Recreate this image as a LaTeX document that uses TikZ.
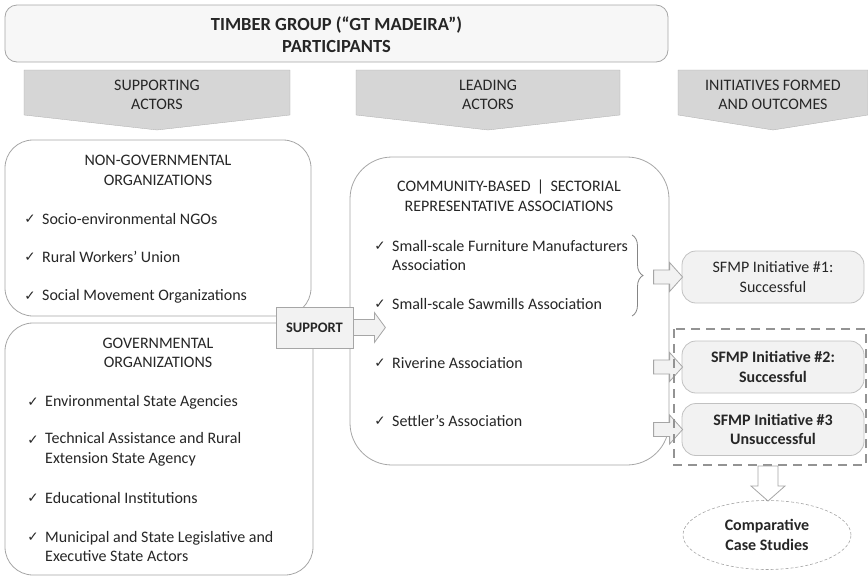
\documentclass[tikz,border=0pt]{standalone}
\usepackage{fontspec}
\setmainfont{Carlito}
\newfontfamily\symf{DejaVu Sans}
\usetikzlibrary{shapes.geometric,decorations.pathreplacing}
\definecolor{txt}{HTML}{262626}
\definecolor{bord}{HTML}{A6A6A6}
\definecolor{lightfill}{HTML}{F2F2F2}
\definecolor{chevfill}{HTML}{D6D6D6}
\begin{document}
\begin{tikzpicture}[x=1pt,y=-1pt,
  every node/.style={text=txt,font=\fontsize{16}{19.5}\selectfont},
  roundbox/.style={draw=bord,line width=0.8pt,fill=white,inner sep=0pt},
  item/.style={anchor=west,inner sep=0pt,align=left},
  chk/.style={inner sep=0pt,font=\symf\fontsize{13.5}{13.5}\selectfont},
  ttl/.style={inner sep=0pt,align=center},
  chev/.style={fill=chevfill,draw=chevfill!80!black,line width=0.3pt},
  barrow/.style={draw=bord,fill=lightfill,line width=0.8pt,line join=miter},
  initbox/.style={draw=bord!70,fill=lightfill,line width=0.8pt,rounded corners=14pt,minimum width=182pt,minimum height=52pt,align=center,inner sep=0pt},
  boldtxt/.style={font=\bfseries\fontsize{16}{19.5}\selectfont}
]
\useasboundingbox (0,0) rectangle (868,576);

% top box
\node[roundbox,fill=lightfill!60!white,rounded corners=12pt,minimum width=663pt,minimum height=57pt] (top) at (336.5,33.5) {};
\node[ttl,font=\bfseries\fontsize{18.5}{22.5}\selectfont] (toptxt) at ([yshift=-1pt]top.center) {TIMBER GROUP (“GT MADEIRA”)\\PARTICIPANTS};

% chevrons
\fill[chev] (24,70) -- (290,70) -- (290,115) -- (157,130) -- (24,115) -- cycle;
\node[ttl] (ch1) at (157,95) {SUPPORTING\\ACTORS};
\fill[chev] (356,70) -- (620,70) -- (620,115) -- (488,130) -- (356,115) -- cycle;
\node[ttl] (ch2) at (488,95) {LEADING\\ACTORS};
\fill[chev] (678,70) -- (868,70) -- (868,115) -- (773,130) -- (678,115) -- cycle;
\node[ttl] (ch3) at (773,95) {INITIATIVES FORMED\\AND OUTCOMES};

% NGO box
\draw[roundbox,rounded corners=28pt] (5,140) rectangle (311,316);
\node[ttl] (ngot) at (158,170.5) {NON-GOVERNMENTAL\\ORGANIZATIONS};
\node[chk] (c1) at (30,219) {✓}; \node[item] (n1) at (42,219) {Socio-environmental NGOs};
\node[chk] (c2) at (30,257) {✓}; \node[item] (n2) at (42,257) {Rural Workers’ Union};
\node[chk] (c3) at (30,296) {✓}; \node[item] (n3) at (42,296) {Social Movement Organizations};

% GOV box
\draw[roundbox,rounded corners=28pt] (5,323) rectangle (313,575);
\node[ttl] (govt) at (158,353) {GOVERNMENTAL\\ORGANIZATIONS};
\node[chk] (g1c) at (33,402) {✓}; \node[item] (g1) at (45,402) {Environmental State Agencies};
\node[chk] (g2c) at (33,440) {✓}; \node[item] (g2) at (45,449.5) {Technical Assistance and Rural\\Extension State Agency};
\node[chk] (g3c) at (33,498) {✓}; \node[item] (g3) at (45,498) {Educational Institutions};
\node[chk] (g4c) at (33,537) {✓}; \node[item] (g4) at (45,546.5) {Municipal and State Legislative and\\Executive State Actors};

% central box
\draw[roundbox,rounded corners=42pt] (350,157) rectangle (669,465);
\node[ttl] (cent) at (509,196) {COMMUNITY-BASED \,|\, SECTORIAL\\REPRESENTATIVE ASSOCIATIONS};
\node[chk] (l1c) at (380,246) {✓}; \node[item] (l1) at (392,255.5) {Small-scale Furniture Manufacturers\\Association};
\node[chk] (l2c) at (380,304) {✓}; \node[item] (l2) at (392,304) {Small-scale Sawmills Association};
\node[chk] (l3c) at (380,363) {✓}; \node[item] (l3) at (392,363) {Riverine Association};
\node[chk] (l4c) at (380,421) {✓}; \node[item] (l4) at (392,421) {Settler’s Association};

% support box and arrow
\node[draw=bord,fill=lightfill,line width=0.8pt,minimum width=77pt,minimum height=41pt,inner sep=0pt,font=\bfseries\fontsize{14.5}{19}\selectfont] (sup) at (314.5,327.5) {SUPPORT};
\draw[barrow] (sup.east) ++(0,-8) -- ++(21,0) -- ++(0,-7) -- ++(11,15) -- ++(-11,15) -- ++(0,-7) -- ++(-21,0) -- cycle;

% brace
\draw[bord!80!black,line width=0.8pt,decorate,decoration={brace,amplitude=11pt,aspect=0.5}] (632,235) -- coordinate (bmid) (632,316);

% initiative boxes
\node[initbox] (i1) at (773,277) {SFMP Initiative \#1:\\Successful};
\node[initbox,boldtxt] (i2) at (773,367) {SFMP Initiative \#2:\\Successful};
\node[initbox,boldtxt] (i3) at (773,429.5) {SFMP Initiative \#3\\Unsuccessful};

% arrows to initiatives
\coordinate (a1) at ([xshift=-28pt]i1.west);
\coordinate (a2) at ([xshift=-28pt]i2.west);
\coordinate (a3) at ([xshift=-28pt]i3.west);
\foreach \a in {a1,a2,a3}{
  \draw[barrow] (\a) ++(0,-7) -- ++(16,0) -- ++(0,-7.5) -- ++(13,14.5) -- ++(-13,14.5) -- ++(0,-7.5) -- ++(-16,0) -- cycle;
}

% dashed frame
\draw[gray!85,line width=2.2pt,dash pattern=on 9pt off 6pt] (674,329) rectangle (866,465);
\coordinate (frameb) at (768,465);

% ellipse
\node[ellipse,draw=bord,dash pattern=on 3pt off 2pt,line width=0.6pt,minimum width=168pt,minimum height=69pt,align=center,inner sep=0pt,boldtxt] (cs) at (767,535) {Comparative\\Case Studies};

% down arrow
\draw[barrow,fill=white] (frameb) ++(-10,1) -- ++(20,0) -- ++(0,20) -- ++(7,0) -- ++(-17,15) -- ++(-17,-15) -- ++(7,0) -- cycle;
\end{tikzpicture}
\end{document}
